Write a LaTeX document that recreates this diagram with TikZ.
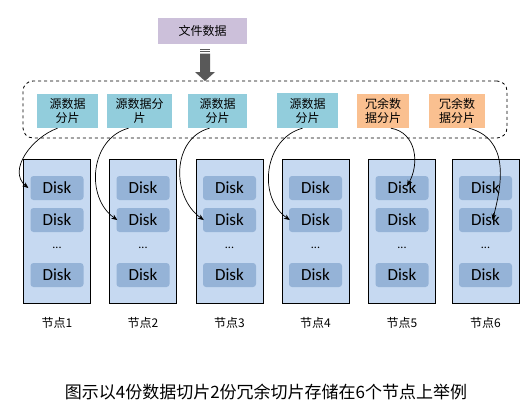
\documentclass[tikz,border=0pt]{standalone}
\usepackage{fontspec}
\setmainfont{Noto Sans CJK SC}
\newfontfamily\cjk{Noto Sans CJK SC}
\newfontfamily\calib{Carlito}
\usetikzlibrary{arrows.meta}
\definecolor{topc}{HTML}{CCC0DA}
\definecolor{srcc}{HTML}{92CDDC}
\definecolor{redc}{HTML}{FAC090}
\definecolor{nodec}{HTML}{C6D9F1}
\definecolor{diskc}{HTML}{95B3D7}
\definecolor{arrc}{HTML}{595959}
\tikzset{
  slicebox/.style={inner sep=0pt, align=center, anchor=center, minimum height=34pt,
    font=\cjk\fontsize{12}{14}\selectfont},
  srcbox/.style={slicebox, fill=srcc},
  redbox/.style={slicebox, fill=redc},
  nodebox/.style={draw=black, line width=0.8pt, fill=nodec, minimum width=67pt, minimum height=144pt, inner sep=0pt},
  diskbox/.style={fill=diskc, rounded corners=3pt, minimum width=53pt, minimum height=24pt, inner sep=0pt,
    font=\calib\fontsize{17}{17}\selectfont},
  dotsnode/.style={inner sep=0pt, font=\calib\fontsize{12}{12}\selectfont},
  lbl/.style={inner sep=0pt, font=\cjk\fontsize{12}{14}\selectfont},
  curv/.style={draw=black, line width=0.7pt, -{Stealth[length=6pt,width=5pt]}}
}
\begin{document}
\begin{tikzpicture}[x=1pt,y=1pt]
\useasboundingbox (0,0) rectangle (532,-418);
% top
\node[fill=topc, minimum width=89pt, minimum height=26pt, inner sep=0pt,
  font=\cjk\fontsize{12}{14}\selectfont] (top) at (202.5,-31) {文件数据};
% block arrow
\draw[arrc, line width=0.8pt] (200,-49.5) -- (210,-49.5);
\draw[arrc, line width=0.8pt] (200,-51.5) -- (210,-51.5);
\fill[arrc] (200,-53.5) -- (210,-53.5) -- (210,-72) -- (215,-72) -- (205,-81) -- (195,-72) -- (200,-72) -- cycle;
% dashed container
\node[draw=black, dashed, line width=0.8pt, rounded corners=10pt, minimum width=484pt, minimum height=57pt, inner sep=0pt] (group) at (265,-109.5) {};
% slices
\node[srcbox, minimum width=61pt] (s1) at (67.5,-111) {源数据\\分片};
\node[srcbox, minimum width=65pt] (s2) at (139.5,-111) {源数据分\\片};
\node[srcbox, minimum width=59pt] (s3) at (217.5,-111) {源数据\\分片};
\node[srcbox, minimum width=61pt, minimum height=35pt] (s4) at (307.5,-110.5) {源数据\\分片};
\node[redbox, minimum width=52pt] (s5) at (383,-111) {冗余数\\据分片};
\node[redbox, minimum width=56pt] (s6) at (457,-111) {冗余数\\据分片};
% storage nodes
\foreach \i/\x in {1/57,2/143,3/229.5,4/315.5,5/402,6/485.5}{
  \node[nodebox] (n\i) at (\x,-231) {};
  \node[diskbox] (d\i1) at (\x,-188) {Disk};
  \node[diskbox] (d\i2) at (\x,-220) {Disk};
  \node[dotsnode] (dots\i) at (\x,-248) {...};
  \node[diskbox] (d\i3) at (\x,-275) {Disk};
  \node[lbl] (lab\i) at (\x,-323) {节点\i};
}
% curves
\draw[curv] ([xshift=-10pt]s1.south) to[out=200, in=140, looseness=1.05] ([xshift=-2pt]d11.west);
\draw[curv] ([xshift=-11pt]s2.south) to[out=195, in=145, looseness=1.1] ([xshift=1pt]d22.west);
\draw[curv] ([xshift=-8pt]s3.south) to[out=195, in=145, looseness=1.1] ([xshift=1pt]d32.west);
\draw[curv] ([xshift=-5pt]s4.south) to[out=195, in=145, looseness=1.1] ([xshift=1pt]d42.west);
\draw[curv] ([xshift=8pt]s5.south) to[out=-10, in=60, looseness=1.1] ([xshift=5pt,yshift=2pt]d51.center);
\draw[curv] ([xshift=12pt]s6.south) to[out=-15, in=75, looseness=1.1] ([xshift=7pt]d62.center);
% caption
\node[inner sep=0pt, font=\cjk\fontsize{17}{19}\selectfont] (cap) at (266,-392) {图示以4份数据切片2份冗余切片存储在6个节点上举例};
\end{tikzpicture}
\end{document}
